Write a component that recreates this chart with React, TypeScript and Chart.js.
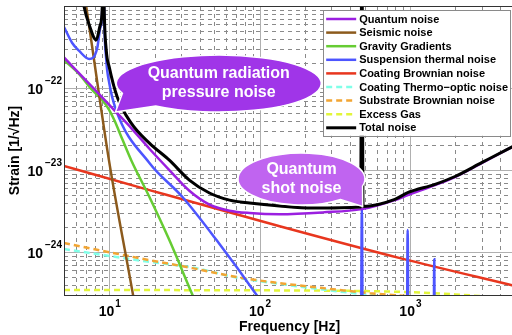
import React, { useEffect, useRef } from "react";
import { Chart, registerables } from "chart.js";

Chart.register(...registerables);

const FONT = '"Liberation Sans", Arial, Helvetica, sans-serif';

// ---- axes ----
const xRange = [5, 5000];
const yRange = [3e-25, 1e-21];
const xTickValues = [10, 100, 1000];
const xTickExponents = ["1", "2", "3"];
const yTickValues = [1e-24, 1e-23, 1e-22];
const yTickExponents = ["\u221224", "\u221223", "\u221222"];
const xTitle = "Frequency [Hz]";
const yTitle = "Strain [1/\u221AHz]";

// ---- series (frequency [Hz], strain [1/sqrt(Hz)]) ----
const quantumFreq = [5, 7.7, 11.1, 14, 18.5, 25.1, 34.1, 46.4, 63.1, 85.8, 136, 263, 479, 794, 970, 1468, 1995, 3020, 4786, 5000];
const quantumStrain = [2.36e-22, 1.03e-22, 5.1e-23, 3.25e-23, 1.82e-23, 1.0e-23, 5.6e-24, 3.8e-24, 3.2e-24, 3.0e-24, 2.9e-24, 3.05e-24, 3.34e-24, 4.3e-24, 4.96e-24, 6.56e-24, 8.2e-24, 1.22e-23, 1.9e-23, 1.97e-23];

const seismicFreq = [5, 6.92, 10, 14.4, 16];
const seismicStrain = [4.5e-20, 1.18e-21, 1.25e-23, 3e-25, 1e-25];

const gravityFreq = [5, 6.31, 7.7, 8.98, 10, 10.8, 12.2, 14, 18.5, 25.1, 35.8, 46.4];
const gravityStrain = [2.19e-22, 1.48e-22, 9.46e-23, 7.14e-23, 5.39e-23, 4.07e-23, 2.39e-23, 1.32e-23, 4.69e-24, 1.4e-24, 3e-25, 1e-25];

const suspensionFreq = [5, 5.67, 6.31, 7.36, 8.32, 8.71, 8.98, 9.1, 9.25, 9.55, 10, 11.1, 18.5, 30.7, 51.7, 95.5, 130, 470, 479, 488, 950, 966, 982, 1430, 1452, 1475, 5000];
const suspensionStrain = [5.55e-22, 3.54e-22, 2.83e-22, 2.26e-22, 3.08e-22, 5.4e-22, 9e-22, 1e-20, 8e-22, 2.2e-22, 1.15e-22, 5.39e-23, 1.22e-23, 4.69e-24, 1.4e-24, 3e-25, 1.3e-25, 1e-26, 3.34e-24, 1e-26, 1e-26, 1.86e-24, 1e-26, 1e-26, 8.2e-25, 1e-26, 1e-27];

const coatingBrownFreq = [5, 18.5, 136, 860, 5000];
const coatingBrownStrain = [1.12e-23, 5.7e-24, 2.07e-24, 8.45e-25, 3.87e-25];

const thermoOpticFreq = [5, 18.5, 35.8, 70.3, 136, 263, 541, 1166, 5000];
const thermoOpticStrain = [1.09e-24, 7.6e-25, 6.5e-25, 4.9e-25, 4.1e-25, 3.5e-25, 3.0e-25, 2.6e-25, 1.8e-25];

const substrateFreq = [5, 18.5, 35.8, 70.3, 136, 263, 541, 1166, 5000];
const substrateStrain = [1.29e-24, 7.98e-25, 6.38e-25, 4.96e-25, 4.19e-25, 3.64e-25, 3.16e-25, 2.8e-25, 2.0e-25];

const gasFreq = [5, 100, 500, 1000, 2000, 3000, 5000];
const gasStrain = [3.45e-25, 3.42e-25, 3.35e-25, 3.25e-25, 3.05e-25, 2.9e-25, 2.7e-25];

const totalFreq = [5, 6.81, 7.36, 8.19, 8.71, 8.98, 9.1, 9.25, 9.55, 10, 11.3, 14, 18.5, 25.1, 34.1, 46.4, 63.1, 85.8, 136, 225, 470, 479, 488, 794, 966, 1468, 1995, 3020, 4786, 5000];
const totalStrain = [5e-20, 9.7e-22, 5.86e-22, 3.85e-22, 5.86e-22, 9.7e-22, 1e-20, 9.7e-22, 2.9e-22, 1.8e-22, 7.8e-23, 3.74e-23, 2.13e-23, 1.32e-23, 7.55e-24, 5.25e-24, 4.3e-24, 3.96e-24, 3.64e-24, 3.44e-24, 3.54e-24, 1e-20, 3.6e-24, 4.4e-24, 5.3e-24, 6.7e-24, 8.35e-24, 1.24e-23, 1.92e-23, 2e-23];

const seriesLabels = [
  "Quantum noise",
  "Seismic noise",
  "Gravity Gradients",
  "Suspension thermal noise",
  "Coating Brownian noise",
  "Coating Thermo\u2212optic noise",
  "Substrate Brownian noise",
  "Excess Gas",
  "Total noise",
];
const seriesFreqs = [quantumFreq, seismicFreq, gravityFreq, suspensionFreq, coatingBrownFreq, thermoOpticFreq, substrateFreq, gasFreq, totalFreq];
const seriesStrains = [quantumStrain, seismicStrain, gravityStrain, suspensionStrain, coatingBrownStrain, thermoOpticStrain, substrateStrain, gasStrain, totalStrain];
const seriesColors = ["#9b1fe0", "#8c5a1c", "#66cc33", "#4d55ff", "#e8361e", "#80ffe8", "#f2a533", "#e2f53a", "#000000"];
const seriesDashed = [false, false, false, false, false, true, true, true, false];
const seriesWidths = [2.5, 2.5, 2.5, 2.5, 2.5, 2.5, 2.5, 2.5, 3];
const seriesOrder = [1, 3, 4, 2, 5, 7, 6, 8, 0];

// ---- callouts ----
const callouts = [
  { lines: ["Quantum radiation", "pressure noise"], centerFreq: 53.5, centerStrain: 1.135e-22, tipFreq: 11, tipStrain: 5.1e-23, rx: 102.5, ry: 28.5, a1: 128, a2: 160, fill: "#a035e8" },
  { lines: ["Quantum", "shot noise"], centerFreq: 190, centerStrain: 7.78e-24, tipFreq: 485, tipStrain: 3.6e-24, rx: 63.5, ry: 26, a1: 16, a2: 52, fill: "#c064f0" },
];

function minorValues(decades: number[], lo: number, hi: number) {
  const out: number[] = [];
  for (const d of decades) for (let m = 2; m <= 9; m++) {
    const v = d * m;
    if (v > lo * 1.0001 && v < hi * 0.9999) out.push(v);
  }
  return out;
}

const decorPlugin = {
  id: "decor",
  beforeDraw(chart: any) {
    const { ctx, width, height } = chart;
    ctx.save();
    ctx.fillStyle = "#ffffff";
    ctx.fillRect(0, 0, width, height);
    ctx.restore();
  },
  beforeDatasetsDraw(chart: any) {
    const { ctx, chartArea: a } = chart;
    const xs = chart.scales.x, ys = chart.scales.y;
    ctx.save();
    ctx.beginPath();
    ctx.rect(a.left, a.top, a.right - a.left, a.bottom - a.top);
    ctx.clip();
    // minor dashed
    ctx.strokeStyle = "#8a8a8a";
    ctx.lineWidth = 1;
    ctx.setLineDash([4, 4]);
    for (const v of minorValues([1, 10, 100, 1000], xRange[0], xRange[1])) {
      const px = Math.round(xs.getPixelForValue(v)) + 0.5;
      ctx.beginPath(); ctx.moveTo(px, a.top); ctx.lineTo(px, a.bottom); ctx.stroke();
    }
    for (const v of minorValues([1e-25, 1e-24, 1e-23, 1e-22], yRange[0], yRange[1])) {
      const py = Math.round(ys.getPixelForValue(v)) + 0.5;
      ctx.beginPath(); ctx.moveTo(a.left, py); ctx.lineTo(a.right, py); ctx.stroke();
    }
    // major solid
    ctx.setLineDash([]);
    ctx.strokeStyle = "#b0b0b0";
    for (const v of xTickValues) {
      const px = Math.round(xs.getPixelForValue(v)) + 0.5;
      ctx.beginPath(); ctx.moveTo(px, a.top); ctx.lineTo(px, a.bottom); ctx.stroke();
    }
    for (const v of yTickValues) {
      const py = Math.round(ys.getPixelForValue(v)) + 0.5;
      ctx.beginPath(); ctx.moveTo(a.left, py); ctx.lineTo(a.right, py); ctx.stroke();
    }
    ctx.restore();
  },
  afterDatasetsDraw(chart: any) {
    const { ctx, chartArea: a } = chart;
    const xs = chart.scales.x, ys = chart.scales.y;
    ctx.save();
    // axes box
    ctx.strokeStyle = "#333333";
    ctx.lineWidth = 1;
    ctx.strokeRect(Math.round(a.left) + 0.5, Math.round(a.top) + 0.5, Math.round(a.right - a.left), Math.round(a.bottom - a.top));

    // callouts
    for (const c of callouts) {
      const cx = xs.getPixelForValue(c.centerFreq);
      const cy = ys.getPixelForValue(c.centerStrain);
      const tx = xs.getPixelForValue(c.tipFreq);
      const ty = ys.getPixelForValue(c.tipStrain);
      const a1 = (c.a1 * Math.PI) / 180, a2 = (c.a2 * Math.PI) / 180;
      ctx.beginPath();
      ctx.ellipse(cx, cy, c.rx, c.ry, 0, a2, a1 + Math.PI * 2, false);
      ctx.lineTo(tx, ty);
      ctx.closePath();
      ctx.fillStyle = c.fill;
      ctx.fill();
      ctx.strokeStyle = "#ffffff";
      ctx.lineWidth = 1.5;
      ctx.stroke();
      ctx.fillStyle = "#ffffff";
      ctx.font = `bold 16px ${FONT}`;
      ctx.textAlign = "center";
      ctx.textBaseline = "middle";
      ctx.fillText(c.lines[0], cx, cy - 9.5);
      ctx.fillText(c.lines[1], cx, cy + 9.5);
    }

    // legend
    ctx.font = `bold 11px ${FONT}`;
    let maxW = 0;
    for (const l of seriesLabels) maxW = Math.max(maxW, ctx.measureText(l).width);
    const boxRight = 510, boxTop = 10, rowH = 13.6;
    const boxW = maxW + 38;
    const boxH = 9 + rowH * (seriesLabels.length - 1) + 8;
    const boxLeft = boxRight - boxW;
    ctx.fillStyle = "#ffffff";
    ctx.fillRect(boxLeft, boxTop, boxW, boxH);
    ctx.strokeStyle = "#8a8a8a";
    ctx.lineWidth = 1;
    ctx.strokeRect(Math.round(boxLeft) + 0.5, boxTop + 0.5, Math.round(boxW), Math.round(boxH));
    seriesLabels.forEach((l, i) => {
      const y = boxTop + 9 + i * rowH;
      ctx.strokeStyle = seriesColors[i];
      ctx.lineWidth = seriesWidths[i];
      ctx.setLineDash(seriesDashed[i] ? [6, 4] : []);
      ctx.beginPath();
      ctx.moveTo(boxLeft + 3, y);
      ctx.lineTo(boxLeft + 33, y);
      ctx.stroke();
      ctx.setLineDash([]);
      ctx.fillStyle = "#000000";
      ctx.textAlign = "left";
      ctx.textBaseline = "middle";
      ctx.fillText(l, boxLeft + 36, y + 0.5);
    });

    // tick labels
    ctx.fillStyle = "#000000";
    ctx.textBaseline = "middle";
    yTickValues.forEach((v, i) => {
      const py = ys.getPixelForValue(v);
      ctx.font = `bold 14px ${FONT}`;
      ctx.textAlign = "right";
      ctx.fillText("10", a.left - 21, py + 2);
      ctx.font = `bold 10px ${FONT}`;
      ctx.textAlign = "left";
      ctx.fillText(yTickExponents[i], a.left - 19, py - 7);
    });
    xTickValues.forEach((v, i) => {
      const px = xs.getPixelForValue(v);
      ctx.font = `bold 14px ${FONT}`;
      ctx.textAlign = "right";
      ctx.fillText("10", px + 5, a.bottom + 17);
      ctx.font = `bold 10px ${FONT}`;
      ctx.textAlign = "left";
      ctx.fillText(xTickExponents[i], px + 6, a.bottom + 9);
    });

    // axis titles
    ctx.font = `bold 14px ${FONT}`;
    ctx.textAlign = "center";
    ctx.fillText(xTitle, (a.left + a.right) / 2, a.bottom + 32);
    ctx.save();
    ctx.translate(15, (a.top + a.bottom) / 2);
    ctx.rotate(-Math.PI / 2);
    ctx.fillText(yTitle, 0, 0);
    ctx.restore();
    ctx.restore();
  },
};

export default function App() {
  const ref = useRef<HTMLCanvasElement | null>(null);
  useEffect(() => {
    const canvas = ref.current;
    if (!canvas) return;
    const datasets = seriesLabels.map((label, i) => ({
      label,
      data: seriesFreqs[i].map((f, j) => ({ x: f, y: seriesStrains[i][j] })),
      borderColor: seriesColors[i],
      backgroundColor: seriesColors[i],
      borderWidth: seriesWidths[i],
      borderDash: seriesDashed[i] ? [6, 4] : [],
      pointRadius: 0,
      fill: false,
      cubicInterpolationMode: "monotone" as const,
      order: seriesOrder[i],
      clip: 0,
    }));
    const chart = new Chart(canvas, {
      type: "line",
      data: { datasets },
      plugins: [decorPlugin],
      options: {
        animation: false,
        responsive: false,
        devicePixelRatio: 1,
        events: [],
        parsing: false as any,
        layout: { padding: { top: 6, left: 0, right: 0, bottom: 0 } },
        plugins: { legend: { display: false }, tooltip: { enabled: false } },
        scales: {
          x: {
            type: "logarithmic",
            position: "bottom",
            min: xRange[0],
            max: xRange[1],
            grid: { display: false },
            border: { display: false },
            ticks: { display: false },
            afterFit: (s: any) => { s.height = 40; },
          },
          y: {
            type: "logarithmic",
            position: "left",
            min: yRange[0],
            max: yRange[1],
            grid: { display: false },
            border: { display: false },
            ticks: { display: false },
            afterFit: (s: any) => { s.width = 64; },
          },
        },
      } as any,
    });
    return () => chart.destroy();
  }, []);
  return (
    <div style={{ position: "fixed", left: 0, top: 0, width: 512, height: 335, overflow: "hidden", background: "#ffffff" }}>
      <canvas ref={ref} width={515} height={335} style={{ display: "block", width: 515, height: 335 }} />
    </div>
  );
}
